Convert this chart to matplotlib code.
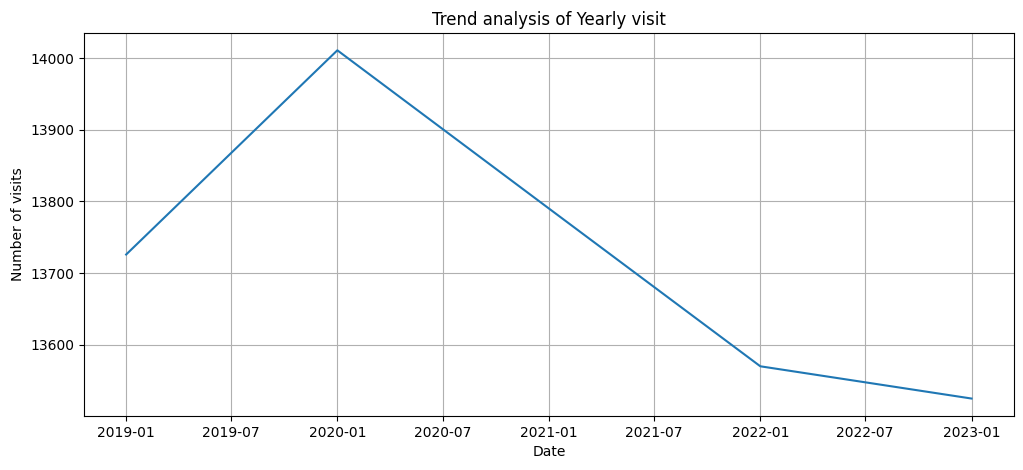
import pandas as pd
import numpy as np
import matplotlib.pyplot as plt

# Yearly visits
dates = ['2019-01-01', '2020-01-01', '2021-01-01', '2022-01-01', '2023-01-01']
visits = [13726, 14011, 13790, 13570, 13525]

df = pd.DataFrame({'Date': pd.to_datetime(dates), 'Visits': visits})

fig, ax = plt.subplots(figsize=(10.23, 4.7), dpi=100)
fig.subplots_adjust(left=0.082, right=0.991, top=0.930, bottom=0.115)
ax.plot(df['Date'], df['Visits'])
ax.set_title('Trend analysis of Yearly visit')
ax.set_xlabel('Date')
ax.set_ylabel('Number of visits')
ax.grid(True)
fig.savefig('out.png')
